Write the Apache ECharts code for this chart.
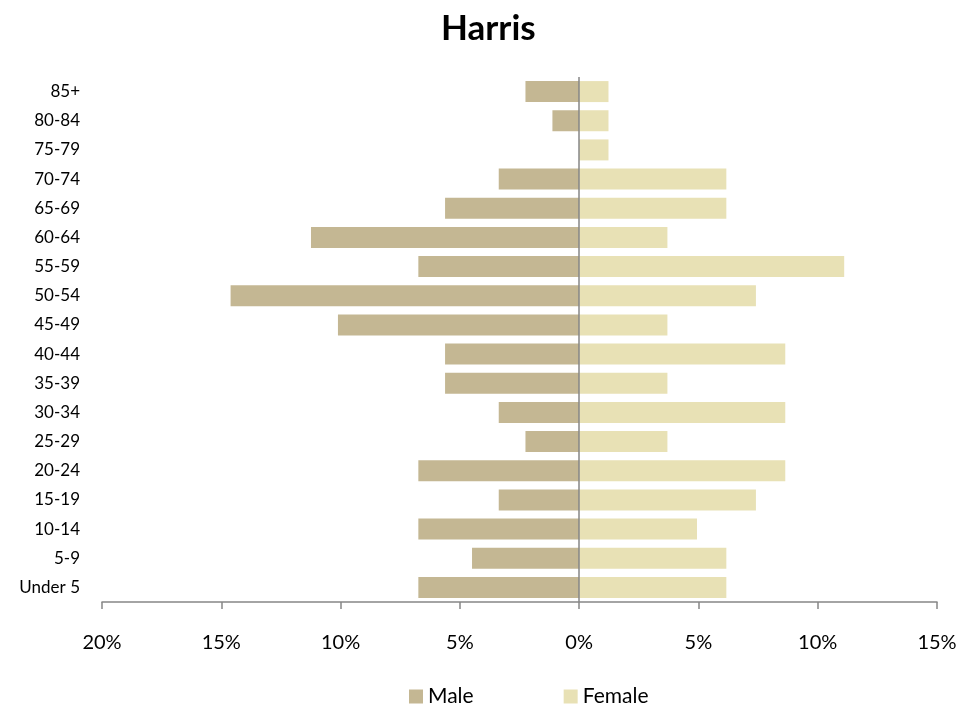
<!DOCTYPE html>
<html><head><meta charset="utf-8">
<script src="https://cdn.jsdelivr.net/npm/echarts@6/dist/echarts.min.js"></script>
<style>html,body{margin:0;padding:0;background:#fff}#c{width:979px;height:713px}</style>
</head><body><div id="c"></div>
<script>
const categories = ["Under 5","5-9","10-14","15-19","20-24","25-29","30-34","35-39","40-44","45-49","50-54","55-59","60-64","65-69","70-74","75-79","80-84","85+"];
const maleValues = [6.74,4.49,6.74,3.37,6.74,2.25,3.37,5.62,5.62,10.11,14.61,6.74,11.24,5.62,3.37,0,1.12,2.25];
const femaleValues = [6.17,6.17,4.94,7.41,8.64,3.70,8.64,3.70,8.64,3.70,7.41,11.11,3.70,6.17,6.17,1.23,1.23,1.23];
const tickValues = [-20,-15,-10,-5,0,5,10,15];

const font = "Lato, 'Open Sans', sans-serif";
const chart = echarts.init(document.getElementById('c'));
chart.setOption({
  animation: false,
  title: {text: 'Harris', left: 436, top: 6, textStyle: {fontFamily: font, fontSize: 35, fontWeight: 'bold', color: '#000'}},
  legend: {bottom: 1, left: 404, itemGap: 90, itemWidth: 14, itemHeight: 14, icon: 'rect',
    textStyle: {fontFamily: font, fontSize: 21, color: '#000'}, data: ['Male','Female']},
  grid: {left: 102, right: 42, top: 77, bottom: 111, containLabel: false},
  xAxis: {type: 'value', min: -20, max: 15, interval: 5,
    axisLine: {show: true, lineStyle: {color: '#868686', width: 1.5}},
    axisTick: {show: true, length: 7, lineStyle: {color: '#868686', width: 1.5}},
    splitLine: {show: false},
    axisLabel: {margin: 31, fontFamily: font, fontSize: 20, color: '#000',
      formatter: v => tickValues.includes(v) ? Math.abs(v) + '%' : ''}},
  yAxis: {type: 'category', data: categories,
    axisLine: {show: false}, axisTick: {show: false},
    axisLabel: {margin: 22, fontFamily: font, fontSize: 17, color: '#000'}},
  series: [
    {name: 'Male', type: 'bar', stack: 'pop', barCategoryGap: '28%',
     data: maleValues.map(v => -v), itemStyle: {color: '#C4B793'},
     markLine: {silent: true, symbol: 'none', label: {show: false},
       lineStyle: {color: '#868686', width: 1.5, type: 'solid'}, data: [{xAxis: 0}]}},
    {name: 'Female', type: 'bar', stack: 'pop', barCategoryGap: '28%',
     data: femaleValues, itemStyle: {color: '#E8E1B5'}}
  ]
});
</script></body></html>
